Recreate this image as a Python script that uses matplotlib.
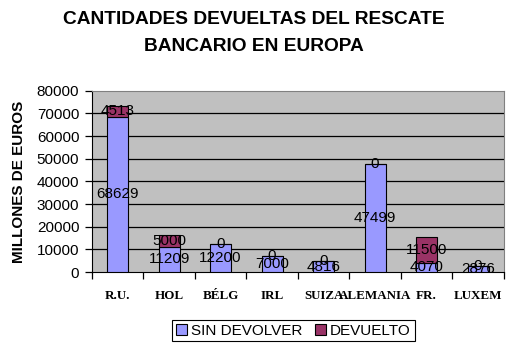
import numpy as np
import matplotlib
matplotlib.use("Agg")
import matplotlib.pyplot as plt
from matplotlib.patches import Patch

# datos del rescate (millones de euros)
paises = ['R.U.', 'HOL', 'BÉLG', 'IRL', 'SUIZA', 'ALEMANIA', 'FR.', 'LUXEM']
sin_devolver = [68629, 11209, 12200, 7000, 4816, 47499, 4070, 2876]
devuelto = [4513, 5000, 0, 0, 0, 0, 11500, 0]
yticks = [0, 10000, 20000, 30000, 40000, 50000, 60000, 70000, 80000]

azul = '#9999FF'
granate = '#993366'

fig = plt.figure(figsize=(5.1, 3.44), dpi=100, facecolor='w')
ax = fig.add_axes([0.180, 0.209, 0.808, 0.527])
ax.set_facecolor('#C0C0C0')

x = np.arange(len(paises))
w = 0.41
b1 = ax.bar(x, sin_devolver, w, color=azul, edgecolor='k', lw=0.8, zorder=3)
b2 = ax.bar(x, devuelto, w, bottom=sin_devolver, color=granate, edgecolor='k', lw=0.8, zorder=3)

# etiquetas centradas en cada tramo
for i in range(len(paises)):
    ax.text(x[i], sin_devolver[i] / 2, str(sin_devolver[i]), ha='center', va='center',
            fontsize=11, family='Liberation Sans', zorder=5)
    ax.text(x[i], sin_devolver[i] + devuelto[i] / 2, str(devuelto[i]), ha='center', va='center',
            fontsize=11, family='Liberation Sans', zorder=5)

ax.set_xlim(-0.5, len(paises) - 0.5)
ax.set_ylim(0, 80000)
ax.set_yticks(yticks)
ax.set_yticklabels([str(v) for v in yticks], family='Liberation Sans', fontsize=11)
for v in yticks[1:-1]:
    ax.axhline(v, color='k', lw=0.9, zorder=1)

ax.set_xticks(x)
ax.set_xticklabels(paises, family='Liberation Serif', fontweight='bold', fontsize=9.4)
ax.set_xticks(np.arange(-0.5, len(paises)), minor=True)
ax.tick_params(axis='x', which='major', length=0, pad=13)
ax.tick_params(axis='x', which='minor', length=5, direction='out', width=0.9)
ax.tick_params(axis='y', length=5, direction='out', width=0.9, pad=4)

ax.spines['left'].set_color('k')
ax.spines['bottom'].set_color('k')
ax.spines['top'].set_color('#808080')
ax.spines['right'].set_color('#808080')

ax.set_ylabel('MILLONES DE EUROS', family='Liberation Sans', fontweight='bold', fontsize=11, labelpad=8)

fig.text(0.498, 0.942, 'CANTIDADES DEVUELTAS DEL RESCATE', ha='center', va='center',
         family='Liberation Sans', fontweight='bold', fontsize=13.8)
fig.text(0.498, 0.866, 'BANCARIO EN EUROPA', ha='center', va='center',
         family='Liberation Sans', fontweight='bold', fontsize=13.8)

handles = [Patch(facecolor=azul, edgecolor='k', lw=0.8), Patch(facecolor=granate, edgecolor='k', lw=0.8)]
leg = fig.legend(handles, ['SIN DEVOLVER', 'DEVUELTO'], loc='center', bbox_to_anchor=(0.5755, 0.039),
                 ncol=2, frameon=True, fancybox=False, edgecolor='k', framealpha=1,
                 prop={'family': 'Liberation Sans', 'size': 11}, handlelength=0.7, handleheight=0.7,
                 handletextpad=0.3, columnspacing=0.8, borderpad=0.25, borderaxespad=0)
leg.get_frame().set_linewidth(0.8)

fig.savefig('out.png', dpi=100, facecolor='w')
